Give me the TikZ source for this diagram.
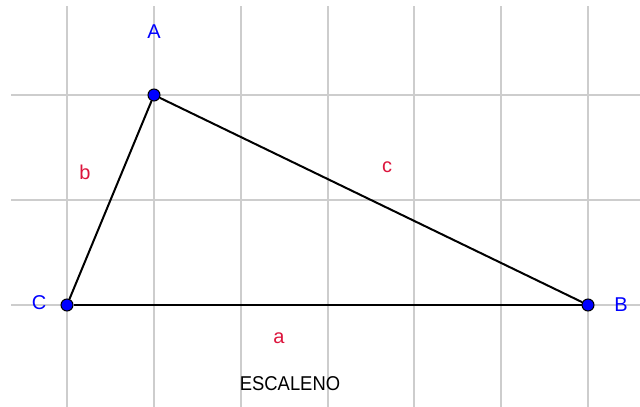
\documentclass[tikz,border=0pt]{standalone}
\usepackage{fontspec}
\setmainfont{Liberation Sans}
\usepackage{xcolor}
\usepackage{tikz}
\usetikzlibrary{positioning}

\definecolor{gridgray}{RGB}{205,205,205}
\definecolor{ptblue}{RGB}{0,0,255}
\definecolor{sidered}{RGB}{220,20,60}

\begin{document}
\begin{tikzpicture}[x=1pt,y=-1pt,thick,
    vertex/.style={circle,draw=black,fill=ptblue,line width=1pt,inner sep=0pt,minimum size=12pt},
    ptlabel/.style={text=ptblue,font=\fontsize{20}{22}\selectfont},
    sidelabel/.style={text=sidered,font=\fontsize{20}{22}\selectfont}]
    \useasboundingbox (0,0) rectangle (640,407);

    % grid
    \foreach \i in {0,...,6}
        \draw[gridgray,line width=2pt] ({67+86.833*\i},6) -- ({67+86.833*\i},407);
    \foreach \j in {95,200,305}
        \draw[gridgray,line width=2pt] (11,\j) -- (640,\j);

    % triangle
    \node[vertex] (A) at (154,95) {};
    \node[vertex] (B) at (588,305) {};
    \node[vertex] (C) at (67,305) {};
    \draw[line width=2pt] (A) -- (B);
    \draw[line width=2pt] (B) -- (C);
    \draw[line width=2pt] (C) -- (A);

    \node[ptlabel] (lA) at (154,32) {A};
    \node[ptlabel] (lB) at (621,305) {B};
    \node[ptlabel] (lC) at (39,303) {C};

    \node[sidelabel] (la) at (279,338) {a};
    \node[sidelabel] (lb) at (85,172) {b};
    \node[sidelabel] (lc) at (387,167) {c};

    \node[font=\fontsize{20}{22}\selectfont,xscale=0.92] (title) at (290,384) {ESCALENO};
\end{tikzpicture}
\end{document}
